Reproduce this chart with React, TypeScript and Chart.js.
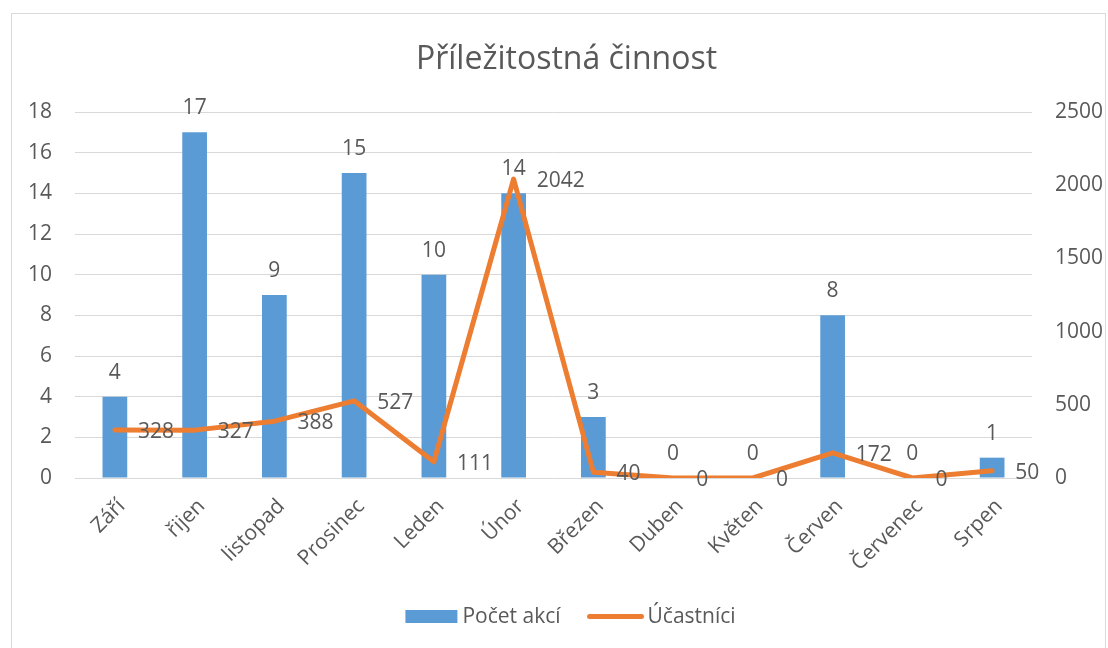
import React, { useEffect, useRef } from "react";
import { Chart, registerables } from "chart.js";

Chart.register(...registerables);

const titleText = "Příležitostná činnost";
const categories = ["Září", "řijen", "listopad", "Prosinec", "Leden", "Únor", "Březen", "Duben", "Květen", "Červen", "Červenec", "Srpen"];
const eventCounts = [4, 17, 9, 15, 10, 14, 3, 0, 0, 8, 0, 1];
const participants = [328, 327, 388, 527, 111, 2042, 40, 0, 0, 172, 0, 50];
const seriesNames = ["Počet akcí", "Účastníci"];
const leftAxis = { min: 0, max: 18, step: 2 };
const rightAxis = { min: 0, max: 2500, step: 500 };

const FONT = "'Open Sans', sans-serif";
const TEXT = "#595959";
const BLUE = "#5B9BD5";
const ORANGE = "#ED7D31";
const GRID = "#d9d9d9";

const labelsPlugin = {
  id: "excelLabels",
  afterDatasetsDraw(chart: any) {
    const ctx = chart.ctx;
    ctx.save();
    ctx.font = `21px ${FONT}`;
    ctx.fillStyle = TEXT;
    ctx.textBaseline = "alphabetic";
    chart.data.datasets.forEach((ds: any, di: number) => {
      const meta = chart.getDatasetMeta(di);
      meta.data.forEach((el: any, i: number) => {
        const v = ds.data[i];
        if (ds.type === "bar") {
          ctx.textAlign = "center";
          ctx.fillText(String(v), el.x, el.y - 18);
        } else {
          ctx.textAlign = "left";
          ctx.fillText(String(v), el.x + 23, el.y + 8);
        }
      });
    });
    ctx.restore();
  },
  afterDraw(chart: any) {
    const ctx = chart.ctx;
    ctx.save();
    // title
    ctx.font = `32px ${FONT}`;
    ctx.fillStyle = TEXT;
    ctx.textAlign = "center";
    ctx.textBaseline = "alphabetic";
    ctx.fillText(titleText, chart.width / 2 + 8, 55);
    // legend
    ctx.font = `21px ${FONT}`;
    const w1 = ctx.measureText(seriesNames[0]).width;
    const w2 = ctx.measureText(seriesNames[1]).width;
    const boxW = 52;
    const lineW = 52;
    const total = boxW + 5 + w1 + 27 + lineW + 8 + w2;
    let x = chart.width / 2 + 12 - total / 2;
    const cy = 602.5;
    const baseline = 609;
    ctx.fillStyle = BLUE;
    ctx.fillRect(x, cy - 6.5, boxW, 13);
    x += boxW + 5;
    ctx.fillStyle = TEXT;
    ctx.textAlign = "left";
    ctx.fillText(seriesNames[0], x, baseline);
    x += w1 + 27;
    ctx.strokeStyle = ORANGE;
    ctx.lineWidth = 5;
    ctx.lineCap = "round";
    ctx.beginPath();
    ctx.moveTo(x + 2, cy);
    ctx.lineTo(x + 2 + lineW, cy);
    ctx.stroke();
    x += lineW + 8;
    ctx.fillText(seriesNames[1], x, baseline);
    ctx.restore();
  },
};

export default function App() {
  const ref = useRef<HTMLCanvasElement>(null);
  useEffect(() => {
    const chart = new Chart(ref.current as HTMLCanvasElement, {
      type: "bar",
      data: {
        labels: categories,
        datasets: [
          {
            type: "bar",
            label: seriesNames[0],
            data: eventCounts,
            yAxisID: "y",
            backgroundColor: BLUE,
            barPercentage: 0.31,
            categoryPercentage: 1,
            order: 1,
          } as any,
          {
            type: "line",
            label: seriesNames[1],
            data: participants,
            yAxisID: "y1",
            borderColor: ORANGE,
            backgroundColor: ORANGE,
            borderWidth: 5,
            pointRadius: 0,
            tension: 0,
            borderJoinStyle: "round",
            borderCapStyle: "round",
            order: 0,
          } as any,
        ],
      },
      options: {
        responsive: true,
        maintainAspectRatio: false,
        animation: false,
        layout: { padding: { left: 0, right: 0, top: 98, bottom: 70 } },
        scales: {
          x: {
            grid: { display: false },
            border: { display: false },
            ticks: {
              color: TEXT,
              font: { family: FONT, size: 21 },
              minRotation: 45,
              maxRotation: 45,
              padding: 8,
              labelOffset: 7,
              autoSkip: false,
            },
            afterFit: (s: any) => {
              s.height = 100;
            },
          },
          y: {
            position: "left",
            min: leftAxis.min,
            max: leftAxis.max,
            ticks: {
              stepSize: leftAxis.step,
              color: TEXT,
              font: { family: FONT, size: 21 },
              padding: 23,
              callback: (v: any) => String(v),
            },
            grid: { color: GRID, lineWidth: 1, drawTicks: false },
            border: { display: false },
            afterFit: (s: any) => {
              s.width = 63;
            },
          },
          y1: {
            position: "right",
            min: rightAxis.min,
            max: rightAxis.max,
            ticks: {
              stepSize: rightAxis.step,
              color: TEXT,
              font: { family: FONT, size: 21 },
              padding: 23,
              callback: (v: any) => String(v),
            },
            grid: { display: false, drawTicks: false },
            border: { display: false },
            afterFit: (s: any) => {
              s.width = 73;
            },
          },
        },
        plugins: {
          legend: { display: false },
          title: { display: false },
          tooltip: { enabled: false },
        },
      } as any,
      plugins: [labelsPlugin],
    });
    return () => chart.destroy();
  }, []);

  return (
    <div
      style={{
        position: "absolute",
        left: 11,
        top: 13,
        width: 1095,
        height: 635,
        borderTop: "1px solid #d9d9d9",
        borderLeft: "1px solid #d9d9d9",
        borderRight: "1px solid #d9d9d9",
        boxSizing: "border-box",
        background: "#fff",
      }}
    >
      <canvas ref={ref} />
    </div>
  );
}
